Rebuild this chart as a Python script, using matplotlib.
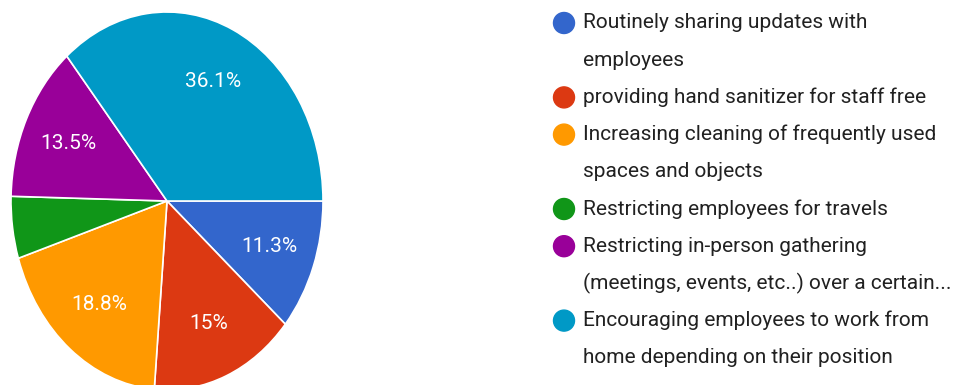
import matplotlib
matplotlib.use('Agg')
from matplotlib import pyplot
from matplotlib.patches import Ellipse
import numpy as np

pyplot.rcParams['font.family'] = ['Roboto', 'DejaVu Sans']

labels = [
    'Routinely sharing updates with\nemployees',
    'providing hand sanitizer for staff free',
    'Increasing cleaning of frequently used\nspaces and objects',
    'Restricting employees for travels',
    'Restricting in-person gathering\n(meetings, events, etc..) over a certain...',
    'Encouraging employees to work from\nhome depending on their position',
]
shares = [11.3, 15.0, 18.8, 5.3, 13.5, 36.1]
pct_text = ['11.3%', '15%', '18.8%', '', '13.5%', '36.1%']
colors = ['#3366cc', '#dc3912', '#ff9900', '#109618', '#990099', '#0099c6']

W, H = 960, 385
fig = pyplot.figure(figsize=(W / 100, H / 100), dpi=100)

# pie axes, deliberately not square so the pie comes out stretched
left, top, width, height = 11, 12, 312, 378
ax = fig.add_axes([left / W, (H - top - height) / H, width / W, height / H])
wedges, _ = ax.pie(shares, colors=colors, startangle=0, counterclock=False,
                   wedgeprops=dict(edgecolor='white', linewidth=1.2))
ax.set_aspect('auto')
ax.set_xlim(-1, 1)
ax.set_ylim(-1, 1)

cum = np.cumsum([0] + shares[:-1])
for start, share, txt in zip(cum, shares, pct_text):
    if not txt:
        continue
    mid = np.deg2rad(-(start + share / 2) * 3.6)
    ax.text(0.70 * np.cos(mid), 0.70 * np.sin(mid), txt, color='white',
            fontsize=15, ha='center', va='center')

# legend drawn in pixel coordinates
lg = fig.add_axes([0, 0, 1, 1])
lg.set_xlim(0, W)
lg.set_ylim(H, 0)
lg.axis('off')
lg.patch.set_alpha(0)

y = 23
step = 37.2
for label, color in zip(labels, colors):
    lg.add_patch(Ellipse((564, y), 21, 21, color=color))
    for line in label.split('\n'):
        lg.text(583, y, line, fontsize=15, color='#212121', va='center', ha='left')
        y += step

fig.savefig('out.png', dpi=100, facecolor='white')
